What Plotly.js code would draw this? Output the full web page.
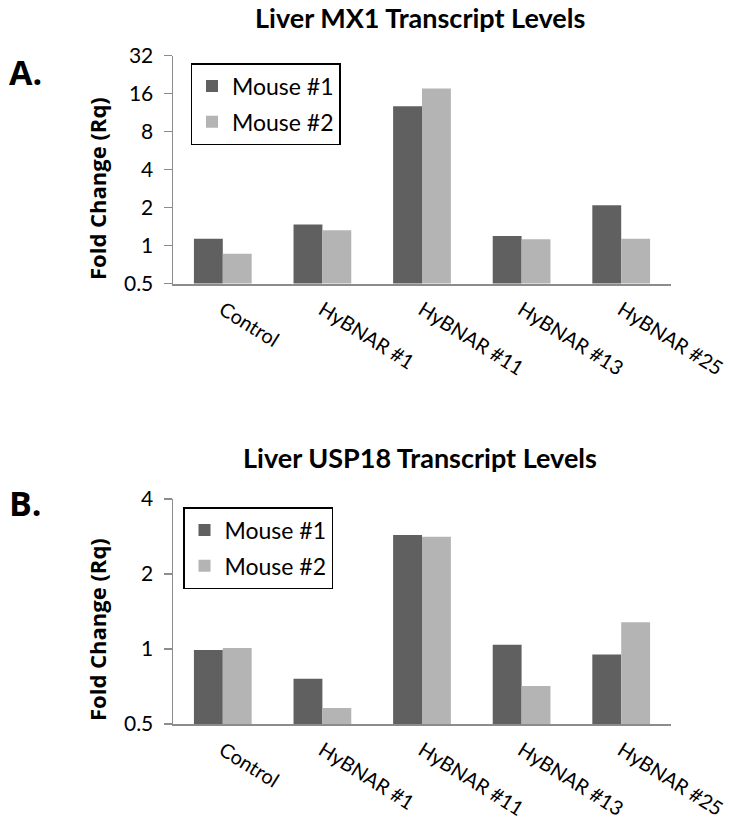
<!DOCTYPE html>
<html>
<head>
<meta charset="utf-8">
<script src="https://cdn.plot.ly/plotly-3.0.1.min.js"></script>
<style>html,body{margin:0;padding:0;background:#fff;}#chart{width:731px;height:822px;}</style>
</head>
<body>
<div id="chart"></div>
<script>
var categories = ["Control", "HyBNAR #1", "HyBNAR #11", "HyBNAR #13", "HyBNAR #25"];
var seriesNames = ["Mouse #1", "Mouse #2"];
var mx1Mouse1 = [1.13, 1.47, 12.7, 1.19, 2.09];
var mx1Mouse2 = [0.86, 1.32, 17.6, 1.12, 1.13];
var usp18Mouse1 = [0.99, 0.76, 2.87, 1.04, 0.95];
var usp18Mouse2 = [1.01, 0.58, 2.82, 0.71, 1.28];
var mx1Ticks = [0.5, 1, 2, 4, 8, 16, 32];
var mx1TickText = ["0.5", "1", "2", "4", "8", "16", "32"];
var usp18Ticks = [0.5, 1, 2, 4];
var usp18TickText = ["0.5", "1", "2", "4"];

var dark = "#606060", light = "#b4b4b4";
var tickFont = {family: "Lato, 'Liberation Sans', sans-serif", size: 21, color: "#000"};
var xTickFont = {family: "Lato, 'Liberation Sans', sans-serif", size: 20, color: "#000"};
var boldFont = "'Open Sans', 'DejaVu Sans', sans-serif";

function bar(y, name, color, xa, ya, lg, grp) {
  return {type: "bar", x: categories, y: y, name: name, xaxis: xa, yaxis: ya, legend: lg, legendgroup: grp,
          marker: {color: color, line: {width: 0}}, hoverinfo: "x+y+name"};
}

var data = [
  bar(mx1Mouse1, seriesNames[0], dark, "x", "y", "legend", "a1"),
  bar(mx1Mouse2, seriesNames[1], light, "x", "y", "legend", "a2"),
  bar(usp18Mouse1, seriesNames[0], dark, "x2", "y2", "legend2", "b1"),
  bar(usp18Mouse2, seriesNames[1], light, "x2", "y2", "legend2", "b2")
];

function xAxis(anchor) {
  return {anchor: anchor, domain: [173/731, 671/731], showline: true, linecolor: "#8c8c8c", linewidth: 2,
          ticks: "", tickangle: 32, tickfont: xTickFont, ticklabelstandoff: 5, showgrid: false, zeroline: false,
          fixedrange: true};
}
function yAxis(anchor, domain, range, vals, text) {
  return {anchor: anchor, domain: domain, type: "log", range: range, tickvals: vals, ticktext: text,
          showline: true, linecolor: "#8c8c8c", linewidth: 1.5, ticks: "outside", ticklen: 8, tickwidth: 1.5,
          tickcolor: "#8c8c8c", tickfont: tickFont, ticklabelstandoff: 6, showgrid: false, zeroline: false,
          fixedrange: true};
}
var legendFont = {family: "Lato, sans-serif", size: 23, color: "#000"};

var layout = {
  width: 731, height: 822,
  margin: {l: 0, r: 0, t: 0, b: 0},
  paper_bgcolor: "#fff", plot_bgcolor: "#fff",
  bargap: 0.42, bargroupgap: 0,
  barmode: "group",
  font: {family: "Lato, sans-serif", color: "#000"},
  xaxis: xAxis("y"),
  yaxis: yAxis("x", [1 - 283.5/822, 1 - 55.7/822], [Math.log10(0.5), Math.log10(32)], mx1Ticks, mx1TickText),
  xaxis2: xAxis("y2"),
  yaxis2: yAxis("x2", [1 - 724/822, 1 - 499/822], [Math.log10(0.5), Math.log10(4)], usp18Ticks, usp18TickText),
  legend: {x: 190.5/731, y: 1 - 63/822, xanchor: "left", yanchor: "top", bordercolor: "#000", borderwidth: 1.5,
           bgcolor: "#fff", font: legendFont, tracegroupgap: 3, traceorder: "grouped",
           itemclick: false, itemdoubleclick: false},
  legend2: {x: 183/731, y: 1 - 507/822, xanchor: "left", yanchor: "top", bordercolor: "#000", borderwidth: 1.5,
           bgcolor: "#fff", font: legendFont, tracegroupgap: 3, traceorder: "grouped",
           itemclick: false, itemdoubleclick: false},
  annotations: [
    {text: "<b>Liver MX1 Transcript Levels</b>", xref: "paper", yref: "paper", x: 420/731, y: 1 - 18/822,
     xanchor: "center", yanchor: "middle", showarrow: false, font: {family: "Lato, sans-serif", size: 27, color: "#000"}},
    {text: "<b>Liver USP18 Transcript Levels</b>", xref: "paper", yref: "paper", x: 420/731, y: 1 - 457/822,
     xanchor: "center", yanchor: "middle", showarrow: false, font: {family: "Lato, sans-serif", size: 27, color: "#000"}},
    {text: "<b>A.</b>", xref: "paper", yref: "paper", x: 25/731, y: 1 - 72/822,
     xanchor: "center", yanchor: "middle", showarrow: false, font: {family: boldFont, size: 34, color: "#000"}},
    {text: "<b>B.</b>", xref: "paper", yref: "paper", x: 25/731, y: 1 - 503/822,
     xanchor: "center", yanchor: "middle", showarrow: false, font: {family: boldFont, size: 34, color: "#000"}},
    {text: "<b>Fold Change (Rq)</b>", xref: "paper", yref: "paper", x: 97/731, y: 1 - 189/822, textangle: -90,
     xanchor: "center", yanchor: "middle", showarrow: false, font: {family: boldFont, size: 22, color: "#000"}},
    {text: "<b>Fold Change (Rq)</b>", xref: "paper", yref: "paper", x: 97/731, y: 1 - 630/822, textangle: -90,
     xanchor: "center", yanchor: "middle", showarrow: false, font: {family: boldFont, size: 22, color: "#000"}}
  ]
};

Plotly.newPlot("chart", data, layout, {displayModeBar: false, staticPlot: true});
</script>
</body>
</html>
